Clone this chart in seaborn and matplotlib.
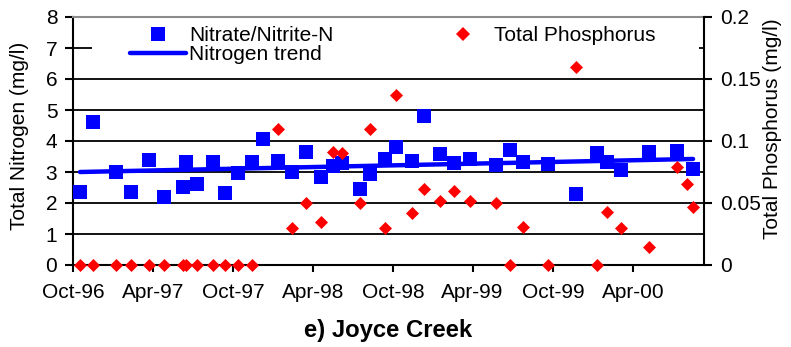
import matplotlib
matplotlib.use("Agg")
import matplotlib.pyplot as plt
import matplotlib.dates as mdates
from matplotlib.lines import Line2D
from matplotlib.patches import Rectangle
import pandas as pd
import seaborn as sns

# ---- data -------------------------------------------------------------
n_dates = [
    "1996-10-17", "1996-11-16", "1997-01-07", "1997-02-10", "1997-03-23",
    "1997-04-27", "1997-06-09", "1997-06-15", "1997-07-10", "1997-08-16",
    "1997-09-12", "1997-10-13", "1997-11-13", "1997-12-09", "1998-01-12",
    "1998-02-13", "1998-03-17", "1998-04-20", "1998-05-17", "1998-06-07",
    "1998-07-18", "1998-08-10", "1998-09-13", "1998-10-08", "1998-11-14",
    "1998-12-11", "1999-01-17", "1999-02-17", "1999-03-26", "1999-05-24",
    "1999-06-25", "1999-07-25", "1999-09-20", "1999-11-23", "2000-01-10",
    "2000-02-02", "2000-03-05", "2000-05-08", "2000-07-10", "2000-08-16",
]
nitrate = [
    2.35, 4.60, 3.00, 2.35, 3.39,
    2.19, 2.52, 3.32, 2.61, 3.32,
    2.32, 2.97, 3.32, 4.05, 3.37,
    3.00, 3.65, 2.85, 3.20, 3.30,
    2.44, 2.92, 3.41, 3.82, 3.35,
    4.81, 3.58, 3.30, 3.43, 3.23,
    3.71, 3.32, 3.25, 2.28, 3.62,
    3.32, 3.06, 3.65, 3.68, 3.10,
]

p_dates = [
    "1996-10-17", "1996-11-16", "1997-01-07", "1997-02-10", "1997-03-23",
    "1997-04-27", "1997-06-09", "1997-06-15", "1997-07-10", "1997-08-16",
    "1997-09-12", "1997-10-13", "1997-11-13", "1998-01-12", "1998-02-13",
    "1998-03-17", "1998-04-20", "1998-05-17", "1998-06-07", "1998-07-18",
    "1998-08-10", "1998-09-13", "1998-10-08", "1998-11-14", "1998-12-11",
    "1999-01-17", "1999-02-17", "1999-03-26", "1999-05-24", "1999-06-25",
    "1999-07-25", "1999-09-20", "1999-11-23", "2000-01-10", "2000-02-02",
    "2000-03-05", "2000-05-08", "2000-07-10", "2000-08-02", "2000-08-16",
]
phosphorus = [
    0, 0, 0, 0, 0,
    0, 0, 0, 0, 0,
    0, 0, 0, 0.110, 0.030,
    0.050, 0.035, 0.091, 0.090, 0.050,
    0.110, 0.030, 0.1375, 0.042, 0.061,
    0.052, 0.060, 0.052, 0.050, 0,
    0.031, 0, 0.160, 0, 0.043,
    0.030, 0.0145, 0.079, 0.065, 0.047,
]

trend_dates = ["1996-10-17", "2000-08-16"]
trend_values = [3.00, 3.42]

n_ticks = list(range(0, 9))
p_ticks = [0, 0.05, 0.1, 0.15, 0.2]
p_tick_labels = ["0", "0.05", "0.1", "0.15", "0.2"]

# ---- frames -----------------------------------------------------------
nit = pd.DataFrame({"date": pd.to_datetime(n_dates), "value": nitrate})
pho = pd.DataFrame({"date": pd.to_datetime(p_dates), "value": phosphorus})
trd = pd.DataFrame({"date": pd.to_datetime(trend_dates), "value": trend_values})

sns.set_style("white")
plt.rcParams["font.family"] = ["Liberation Sans", "DejaVu Sans"]
plt.rcParams["text.color"] = "black"
plt.rcParams["axes.labelcolor"] = "black"

W, H = 791, 347
FS = 15
BLUE = "#0000FF"
RED = "#FF0000"

fig = plt.figure(figsize=(W / 100, H / 100), dpi=100)
fig.patch.set_facecolor("white")
L, R, T, B = 73, 704, 17, 265
ax = fig.add_axes([L / W, 1 - B / H, (R - L) / W, (B - T) / H])
ax2 = ax.twinx()

# nitrogen axis
ax.set_ylim(0, 8)
ax.set_yticks(n_ticks)
ax.set_yticklabels([str(t) for t in n_ticks])
ax.set_xlim(pd.Timestamp("1996-10-01"), pd.Timestamp("2000-09-10"))
ax.xaxis.set_major_locator(mdates.MonthLocator(bymonth=[4, 10], bymonthday=1))
ax.xaxis.set_major_formatter(mdates.DateFormatter("%b-%y"))
ax.set_axisbelow(True)
ax.grid(axis="y", color="black", linewidth=1.3)
ax.grid(axis="x", visible=False)

# blank band behind the legend
ax.add_patch(Rectangle((92, H - 66), 699 - 92, 66 - 17, transform=None,
                       facecolor="white", edgecolor="none", zorder=1.2))

sns.lineplot(data=trd, x="date", y="value", ax=ax, color=BLUE, linewidth=3.2,
             solid_capstyle="round", zorder=3, legend=False)
sns.scatterplot(data=nit, x="date", y="value", ax=ax, marker="s", s=88,
                color=BLUE, linewidth=0, zorder=4, legend=False)

# phosphorus axis
ax2.set_ylim(0, 0.2)
ax2.set_yticks(p_ticks)
ax2.set_yticklabels(p_tick_labels)
sns.scatterplot(data=pho, x="date", y="value", ax=ax2, marker="D", s=44,
                color=RED, linewidth=0, zorder=5, legend=False)
for coll in ax2.collections:
    coll.set_clip_on(False)
for coll in ax.collections:
    coll.set_clip_on(False)

for a in (ax, ax2):
    a.set_xlabel("")
    a.set_ylabel("")

for name, sp in ax.spines.items():
    sp.set_linewidth(1.5)
    sp.set_color("black")
ax.spines["right"].set_visible(False)
ax.spines["top"].set_color("#8c8c8c")
for name, sp in ax2.spines.items():
    sp.set_visible(name == "right")
    sp.set_linewidth(1.5)
    sp.set_color("black")

ax.tick_params(axis="y", which="major", left=True, direction="out", length=5.8,
               width=1.5, pad=5.5, labelsize=FS, colors="black")
ax.tick_params(axis="x", which="major", bottom=True, direction="out", length=5,
               width=1.5, pad=8, labelsize=FS, colors="black")
ax2.tick_params(axis="y", which="major", right=True, direction="out", length=5.8,
                width=1.5, pad=5.5, labelsize=FS, colors="black")

# axis titles and caption
fig.text(20 / W, 1 - 136 / H, "Total Nitrogen (mg/l)", rotation=90,
         ha="center", va="center", fontsize=FS)
fig.text(773 / W, 1 - 129 / H, "Total Phosphorus (mg/l)", rotation=90,
         ha="center", va="center", fontsize=FS)
fig.text(388.5 / W, 1 - 337 / H, "e) Joyce Creek", ha="center",
         va="baseline", fontsize=17.2, fontweight="bold")

# legend
handles = [
    Line2D([], [], marker="s", linestyle="none", markersize=9.4,
           markerfacecolor=BLUE, markeredgewidth=0),
    Line2D([], [], color=BLUE, linewidth=3.2, solid_capstyle="round"),
    Line2D([], [], marker="D", linestyle="none", markersize=6.7,
           markerfacecolor=RED, markeredgewidth=0),
]
labels = ["Nitrate/Nitrite-N", "Nitrogen trend", "Total Phosphorus"]
leg = ax2.legend(handles, labels, ncol=2, loc="upper left",
                 bbox_to_anchor=(130 / W, 1 - 26.0 / H),
                 bbox_transform=fig.transFigure, frameon=False,
                 fontsize=FS, borderpad=0, borderaxespad=0,
                 handlelength=2.69, handletextpad=0.15,
                 columnspacing=4.85, labelspacing=0.0)
leg.set_zorder(10)

fig.savefig("out.png", dpi=100, facecolor="white")
